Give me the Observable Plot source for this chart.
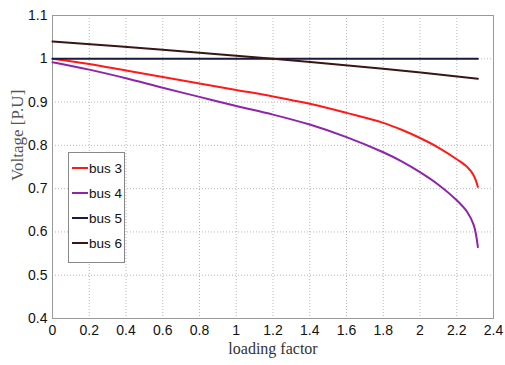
<!DOCTYPE html>
<html>
<head>
<meta charset="utf-8">
<script src="https://cdn.jsdelivr.net/npm/d3@7"></script>
<script src="https://cdn.jsdelivr.net/npm/@observablehq/plot@0.6"></script>
<style>
  html, body { margin: 0; padding: 0; background: #fff; }
  #wrap { position: relative; width: 505px; height: 365px; }
  #legend {
    position: absolute; left: 68px; top: 152px; width: 57px; height: 111px;
    border: 1px solid #888; background: #fff; box-sizing: border-box;
    font-family: "Liberation Sans Narrow", "Liberation Sans", Arial, sans-serif;
    font-size: 13.5px; color: #111; white-space: nowrap;
  }
  .item { position: absolute; left: 3px; display: flex; align-items: center; height: 16px; white-space: nowrap; }
  .sw { width: 16px; height: 2px; margin-right: 1px; flex: none; }
</style>
</head>
<body>
<div id="wrap"><div id="legend"></div></div>
<script>
const seriesNames = ["bus 3", "bus 4", "bus 5", "bus 6"];
const seriesColors = ["#ff1a1a", "#8e24aa", "#1a1a40", "#3a1515"];

const bus3X = [0, 0.2, 0.4, 0.6, 0.8, 1.0, 1.2, 1.4, 1.6, 1.8, 1.9, 2.0, 2.1, 2.2, 2.257, 2.293, 2.315];
const bus3Y = [1.0, 0.988, 0.973, 0.958, 0.943, 0.928, 0.913, 0.896, 0.875, 0.852, 0.836, 0.817, 0.795, 0.768, 0.750, 0.730, 0.704];

const bus4X = [0, 0.2, 0.4, 0.6, 0.8, 1.0, 1.2, 1.4, 1.6, 1.8, 1.9, 2.0, 2.1, 2.2, 2.257, 2.293, 2.315];
const bus4Y = [0.992, 0.975, 0.955, 0.933, 0.912, 0.891, 0.871, 0.848, 0.819, 0.784, 0.763, 0.738, 0.709, 0.673, 0.646, 0.615, 0.565];

const bus5X = [0, 2.315];
const bus5Y = [1.0, 1.0];

const bus6X = [0, 0.6, 1.2, 1.8, 2.315];
const bus6Y = [1.04, 1.021, 1.0, 0.977, 0.954];

const xTicks = [0, 0.2, 0.4, 0.6, 0.8, 1, 1.2, 1.4, 1.6, 1.8, 2, 2.2, 2.4];
const yTicks = [0.4, 0.5, 0.6, 0.7, 0.8, 0.9, 1, 1.1];

const xs = [bus3X, bus4X, bus5X, bus6X];
const ys = [bus3Y, bus4Y, bus5Y, bus6Y];
const data = [];
seriesNames.forEach((s, i) => xs[i].forEach((x, j) => data.push({series: s, x, y: ys[i][j]})));

const tickFont = "\"Liberation Sans Narrow\", \"Liberation Sans\", Arial, sans-serif";

const chart = Plot.plot({
  width: 505,
  height: 365,
  marginLeft: 52,
  marginRight: 12,
  marginTop: 15,
  marginBottom: 47,
  style: {fontFamily: tickFont, fontSize: "14px", color: "#111", background: "#fff"},
  x: {domain: [0, 2.4], ticks: xTicks, label: null},
  y: {domain: [0.4, 1.1], ticks: yTicks, label: null},
  color: {domain: seriesNames, range: seriesColors},
  marks: [
    Plot.gridX(xTicks, {stroke: "#888", strokeOpacity: 0.6, strokeDasharray: "1,2"}),
    Plot.gridY(yTicks, {stroke: "#888", strokeOpacity: 0.6, strokeDasharray: "1,2"}),
    Plot.frame({stroke: "#999"}),
    Plot.axisX(xTicks, {tickSize: 0, tickPadding: 7, fontSize: 14, tickFormat: d => String(d)}),
    Plot.axisY(yTicks, {tickSize: 0, tickPadding: 5, fontSize: 14, tickFormat: d => String(d)}),
    Plot.line(data, {x: "x", y: "y", z: "series", stroke: "series", strokeWidth: 2, curve: "catmull-rom"}),
    Plot.text(["loading factor"], {frameAnchor: "bottom", dy: 35, fontFamily: "\"Liberation Serif\", serif", fontSize: 16, fill: "#333"}),
    Plot.text(["Voltage [P.U]"], {frameAnchor: "left", dx: -35, rotate: -90, fontFamily: "\"Liberation Serif\", serif", fontSize: 17, fill: "#555", dy: 14, letterSpacing: "1px"})
  ]
});
document.getElementById("wrap").prepend(chart);

const legend = document.getElementById("legend");
seriesNames.forEach((s, i) => {
  const it = document.createElement("div");
  it.className = "item";
  it.style.top = (7 + i * 25) + "px";
  it.innerHTML = `<span class="sw" style="background:${seriesColors[i]}"></span><span>${s}</span>`;
  legend.appendChild(it);
});
</script>
</body>
</html>
